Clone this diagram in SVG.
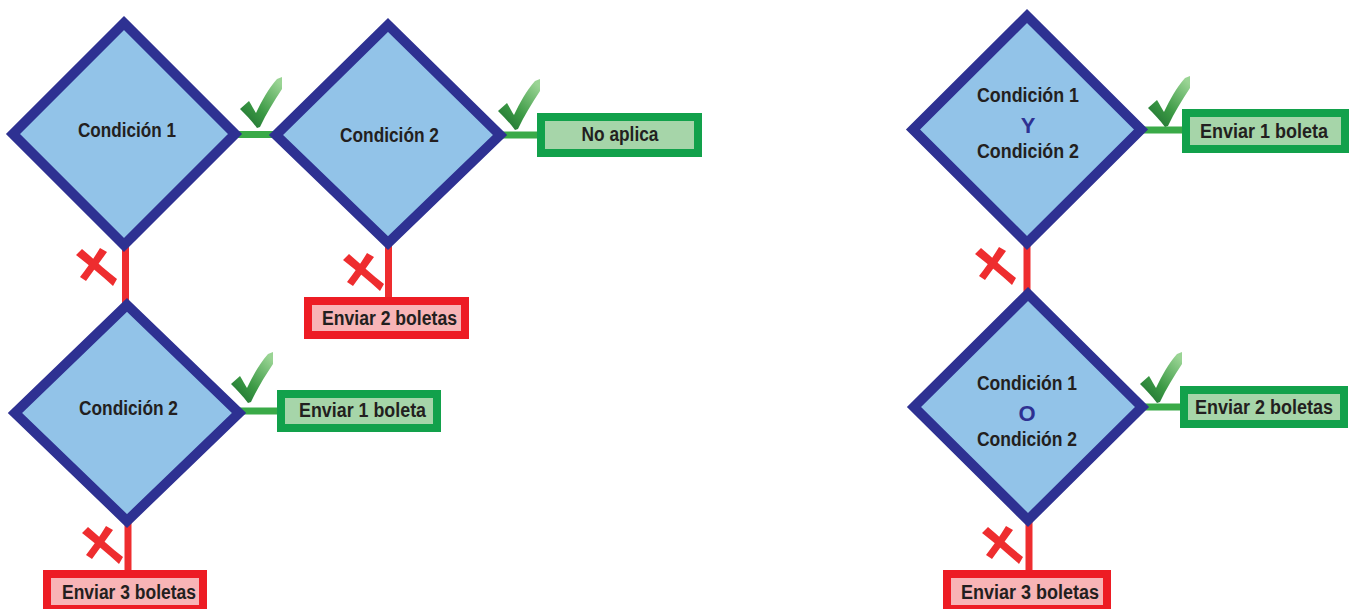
<svg xmlns="http://www.w3.org/2000/svg" width="1351" height="609" viewBox="0 0 1351 609">
<defs>
<linearGradient id="chkGrad" x1="0" y1="1" x2="0.8" y2="0">
<stop offset="0" stop-color="#1a6a2e"/>
<stop offset="0.45" stop-color="#3c9a45"/>
<stop offset="1" stop-color="#9ad494"/>
</linearGradient>
<path id="check" d="M0,0 C-5,-7 -11,-13 -17,-19 L-8,-27 C-5,-22 -3,-18 -1,-15 C5,-28 12,-40 20,-49 L25,-51 L25,-39 C17,-27 9,-14 3,-1 Z" fill="url(#chkGrad)"/>
<g id="cross" fill="#ee2d2f">
<path d="M-21,-13 L-15,-19 C-3,-9 8,2 20,11 L16,18 C5,8 -8,-3 -21,-13 Z"/>
<path d="M3,-20 L10,-16 C3,-6 -4,3 -11,13 L-17,9 C-10,0 -3,-10 3,-20 Z"/>
</g>
</defs>
<style>
.dia{fill:#92c3e8;stroke:#2e3192;stroke-width:10;stroke-linejoin:miter}
.gbox{fill:#a6d5a9;stroke:#12a14b;stroke-width:8}
.rbox{fill:#f8b4b6;stroke:#ed1c24;stroke-width:8}
.gl{stroke:#3aaa48;stroke-width:7;fill:none}
.rl{stroke:#ee2d2f;stroke-width:7;fill:none}
text{font-family:"Liberation Sans",Arial,sans-serif;font-weight:bold;font-size:19.5px;fill:#231f20;text-anchor:middle}
.op{fill:#2e3192;font-size:22px}
</style>
<rect width="1351" height="609" fill="#ffffff"/>
<g id="connectors">
<line class="gl" x1="235" y1="134.5" x2="278" y2="134.5"/>
<line class="gl" x1="500" y1="135" x2="541" y2="135"/>
<line class="rl" x1="125.5" y1="245" x2="125.5" y2="306"/>
<line class="rl" x1="388.5" y1="243" x2="388.5" y2="301"/>
<line class="gl" x1="239" y1="411" x2="281" y2="411"/>
<line class="rl" x1="128" y1="520" x2="128" y2="574"/>
<line class="gl" x1="1141" y1="130" x2="1186" y2="130"/>
<line class="rl" x1="1027" y1="242" x2="1027" y2="295"/>
<line class="gl" x1="1142" y1="407" x2="1184" y2="407"/>
<line class="rl" x1="1029" y1="519" x2="1029" y2="574"/>
</g>
<g id="node-cond1">
<polygon class="dia" points="124,23 235,134 124,245 13,134"/>
<text x="127" y="137" textLength="98" lengthAdjust="spacingAndGlyphs">Condición 1</text>
</g>
<g id="node-cond2-top">
<polygon class="dia" points="388,25 500,135 388,243 276,135"/>
<text x="389.5" y="142" textLength="99" lengthAdjust="spacingAndGlyphs">Condición 2</text>
</g>
<g id="node-noaplica">
<rect class="gbox" x="541" y="117" width="157" height="36"/>
<text x="620" y="141" textLength="77" lengthAdjust="spacingAndGlyphs">No aplica</text>
</g>
<g id="node-enviar2-left">
<rect class="rbox" x="308" y="301" width="157" height="34"/>
<text x="389.5" y="325" textLength="135" lengthAdjust="spacingAndGlyphs">Enviar 2 boletas</text>
</g>
<g id="node-cond2-bottom">
<polygon class="dia" points="127,305 239,413 127,521 15,413"/>
<text x="128.5" y="415" textLength="99" lengthAdjust="spacingAndGlyphs">Condición 2</text>
</g>
<g id="node-enviar1-left">
<rect class="gbox" x="281" y="394" width="156" height="34"/>
<text x="362.5" y="417" textLength="127" lengthAdjust="spacingAndGlyphs">Enviar 1 boleta</text>
</g>
<g id="node-enviar3-left">
<rect class="rbox" x="47" y="574" width="156" height="35"/>
<text x="129" y="599" textLength="134" lengthAdjust="spacingAndGlyphs">Enviar 3 boletas</text>
</g>
<g id="node-and">
<polygon class="dia" points="1027,16 1141,129.5 1027,243 913,129.5"/>
<text x="1028" y="102" textLength="102" lengthAdjust="spacingAndGlyphs">Condición 1</text>
<text class="op" x="1028" y="133">Y</text>
<text x="1028" y="158" textLength="102" lengthAdjust="spacingAndGlyphs">Condición 2</text>
</g>
<g id="node-enviar1-right">
<rect class="gbox" x="1186" y="113" width="159" height="36"/>
<text x="1264" y="138" textLength="128" lengthAdjust="spacingAndGlyphs">Enviar 1 boleta</text>
</g>
<g id="node-or">
<polygon class="dia" points="1028,294 1142,407 1028,520 914,407"/>
<text x="1027" y="390" textLength="100" lengthAdjust="spacingAndGlyphs">Condición 1</text>
<text class="op" x="1027" y="421">O</text>
<text x="1027" y="446" textLength="100" lengthAdjust="spacingAndGlyphs">Condición 2</text>
</g>
<g id="node-enviar2-right">
<rect class="gbox" x="1184" y="390" width="160" height="34"/>
<text x="1264" y="414" textLength="138" lengthAdjust="spacingAndGlyphs">Enviar 2 boletas</text>
</g>
<g id="node-enviar3-right">
<rect class="rbox" x="947" y="574" width="160" height="35"/>
<text x="1030" y="599" textLength="138" lengthAdjust="spacingAndGlyphs">Enviar 3 boletas</text>
</g>
<g id="marks">
<use href="#check" transform="translate(257,128)"/>
<use href="#check" transform="translate(515,130)"/>
<use href="#check" transform="translate(248,403)"/>
<use href="#check" transform="translate(1165,127)"/>
<use href="#check" transform="translate(1157,403)"/>
<use href="#cross" transform="translate(97,268)"/>
<use href="#cross" transform="translate(364,273)"/>
<use href="#cross" transform="translate(103,546)"/>
<use href="#cross" transform="translate(996,267)"/>
<use href="#cross" transform="translate(1003,546)"/>
</g>
</svg>
